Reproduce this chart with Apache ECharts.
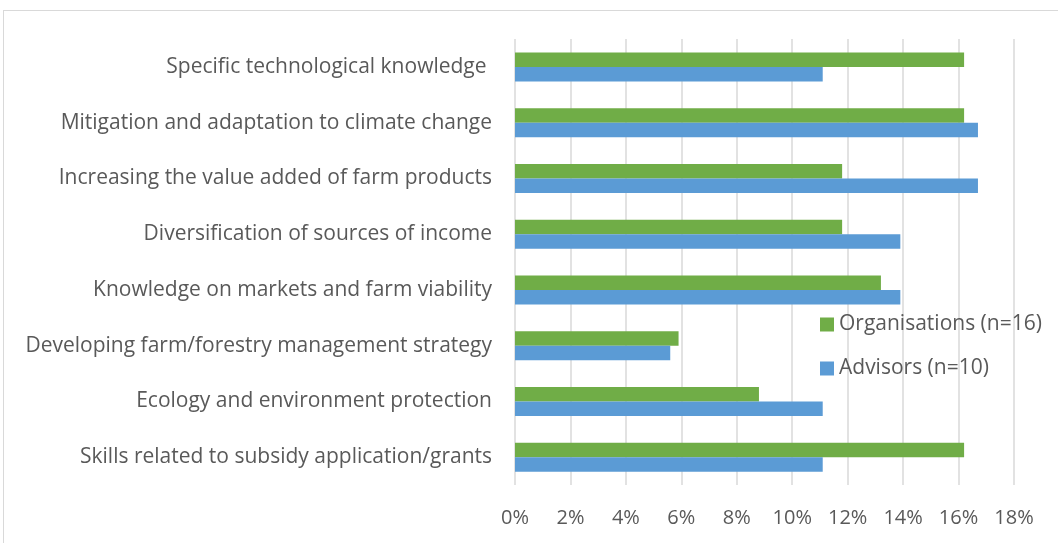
<!DOCTYPE html>
<html>
<head>
<meta charset="utf-8">
<script src="https://cdn.jsdelivr.net/npm/echarts@6/dist/echarts.min.js"></script>
<style>
  html, body { margin: 0; padding: 0; background: #fff; }
  #chart { width: 1058px; height: 543px; }
  #frame { position: absolute; left: 3px; top: 10px; width: 1060px; height: 540px; border: 1px solid #d9d9d9; box-sizing: border-box; }
</style>
</head>
<body>
<div id="frame"></div>
<div id="chart" style="position:absolute;left:0;top:0;"></div>
<script>
// top to bottom
const categories = [
  "Specific technological knowledge ",
  "Mitigation and adaptation to climate change",
  "Increasing the value added of farm products",
  "Diversification of sources of income",
  "Knowledge on markets and farm viability",
  "Developing farm/forestry management strategy",
  "Ecology and environment protection",
  "Skills related to subsidy application/grants"
];
const organisations = [16.2, 16.2, 11.8, 11.8, 13.2, 5.9, 8.8, 16.2];
const advisors = [11.1, 16.7, 16.7, 13.9, 13.9, 5.6, 11.1, 11.1];

const font = "Open Sans";
const textColor = "#595959";

const chart = echarts.init(document.getElementById("chart"));
chart.setOption({
  animation: false,
  grid: { left: 515, right: 44, top: 39, bottom: 58 },
  legend: {
    orient: "vertical",
    left: 815,
    top: 309,
    itemWidth: 14,
    itemHeight: 14,
    itemGap: 23,
    icon: "rect",
    textStyle: { fontFamily: font, fontSize: 21, color: textColor },
    data: ["Organisations (n=16)", "Advisors (n=10)"]
  },
  xAxis: {
    type: "value",
    min: 0,
    max: 18,
    interval: 2,
    axisLine: { show: false },
    axisTick: { show: false },
    splitLine: { lineStyle: { color: "#d9d9d9", width: 1.5 } },
    axisLabel: {
      formatter: v => v + "%",
      margin: 23,
      fontFamily: font,
      fontSize: 20,
      color: textColor
    }
  },
  yAxis: {
    type: "category",
    inverse: true,
    data: categories,
    axisLine: { show: false },
    axisTick: { show: false },
    axisLabel: { margin: 23, fontFamily: font, fontSize: 21, color: textColor }
  },
  series: [
    {
      name: "Organisations (n=16)",
      type: "bar",
      data: organisations,
      barWidth: 14.5,
      barGap: "0%",
      itemStyle: { color: "#70ad47" }
    },
    {
      name: "Advisors (n=10)",
      type: "bar",
      data: advisors,
      barWidth: 14.5,
      barGap: "0%",
      itemStyle: { color: "#5b9bd5" }
    }
  ]
});
</script>
</body>
</html>
